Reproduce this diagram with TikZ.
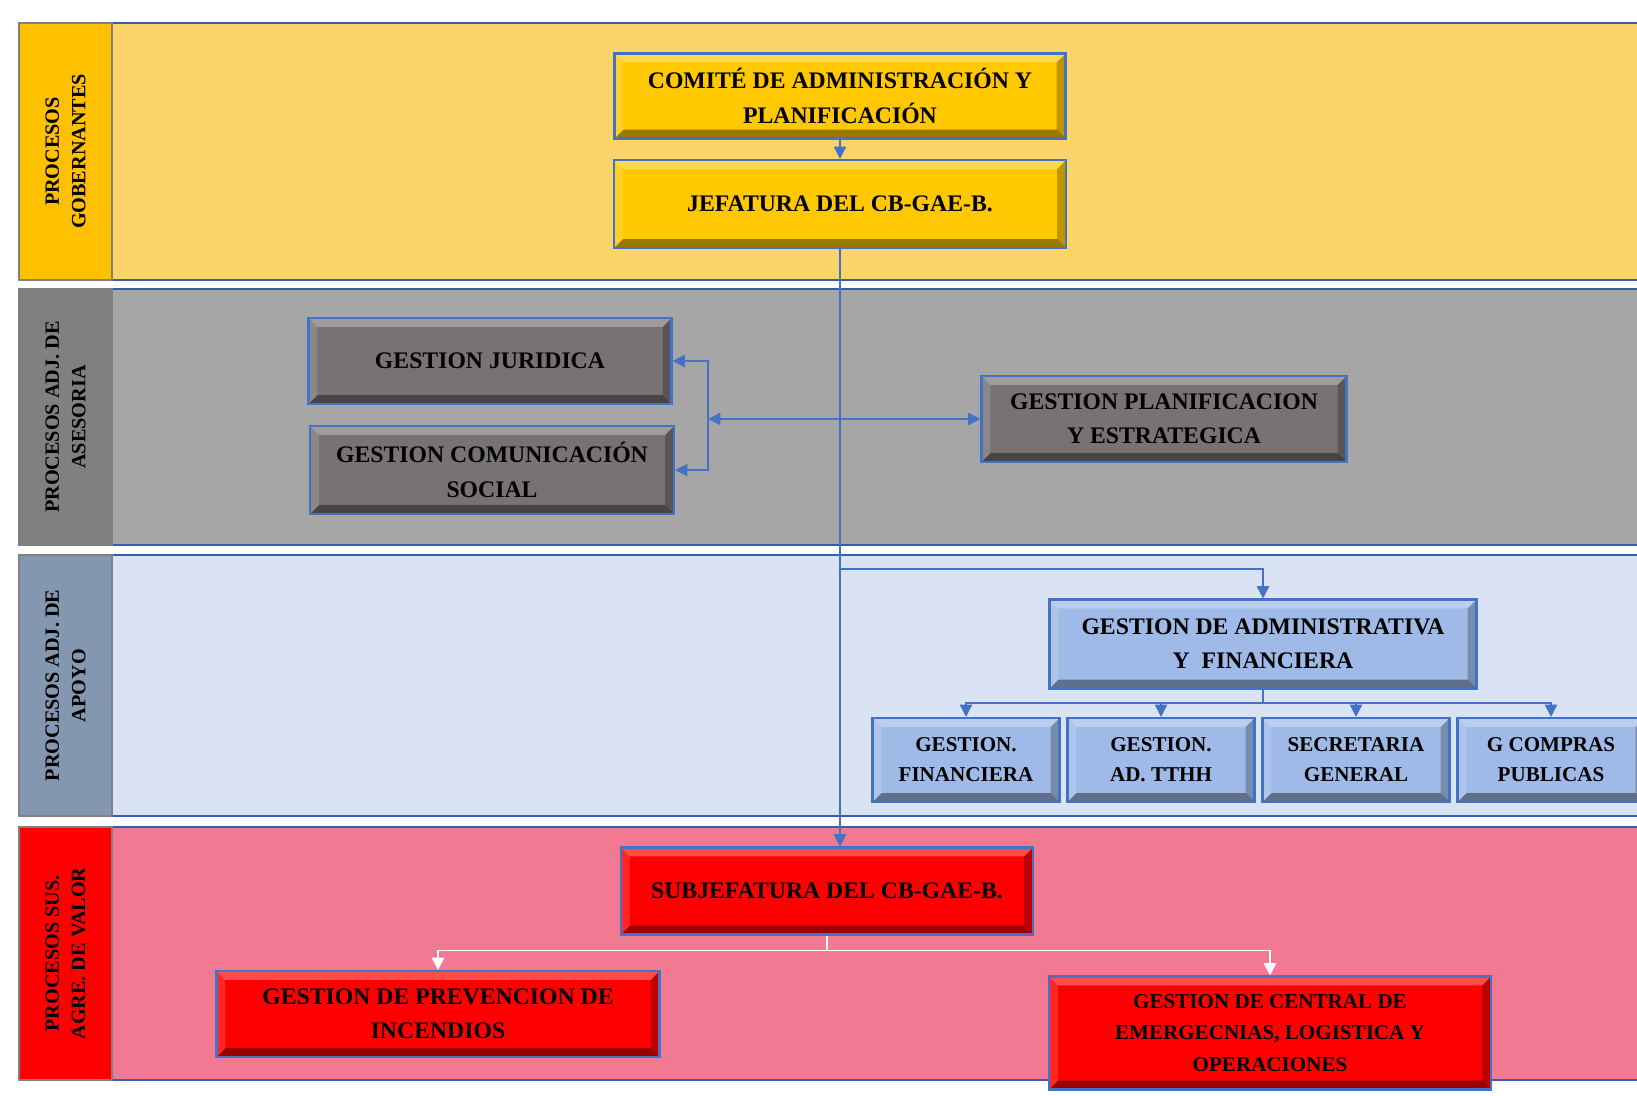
\documentclass[tikz,border=0pt]{standalone}
\usepackage{fontspec}
\setmainfont{Liberation Serif}
\usetikzlibrary{arrows.meta}

\definecolor{laneyellow}{RGB}{252,213,106}
\definecolor{tagyellow}{RGB}{255,192,0}
\definecolor{gold}{RGB}{255,200,0}
\definecolor{lanegray}{RGB}{166,166,166}
\definecolor{taggray}{RGB}{128,128,128}
\definecolor{boxgray}{RGB}{120,114,114}
\definecolor{laneblue}{RGB}{218,227,243}
\definecolor{tagblue}{RGB}{132,151,176}
\definecolor{boxblue}{RGB}{160,186,232}
\definecolor{lanepink}{RGB}{241,121,146}
\definecolor{tagred}{RGB}{255,0,0}
\definecolor{boxred}{RGB}{255,0,0}
\definecolor{laneline}{RGB}{56,93,170}
\definecolor{boxline}{RGB}{68,114,196}

\tikzset{
  lane/.style={draw=laneline, line width=1.2pt},
  lanelabel/.style={draw=black!50, line width=0.6pt, rotate=90, minimum height=1.86cm,
    inner sep=0pt, align=center, font=\bfseries\fontsize{11.5}{15}\selectfont},
  box/.style={draw=boxline, line width=1.2pt, align=center, inner sep=2pt,
    font=\bfseries\fontsize{13.5}{19.5}\selectfont,
    path picture={
      \coordinate (sw) at (path picture bounding box.south west);
      \coordinate (se) at (path picture bounding box.south east);
      \coordinate (ne) at (path picture bounding box.north east);
      \coordinate (nw) at (path picture bounding box.north west);
      \fill[black,opacity=.4] (sw) -- (se) -- ([shift={(-5pt,5pt)}]se) -- ([shift={(5pt,5pt)}]sw) -- cycle;
      \fill[black,opacity=.25] (se) -- (ne) -- ([shift={(-5pt,-5pt)}]ne) -- ([shift={(-5pt,5pt)}]se) -- cycle;
      \fill[white,opacity=.3] (ne) -- (nw) -- ([shift={(5pt,-5pt)}]nw) -- ([shift={(-5pt,-5pt)}]ne) -- cycle;
      \fill[white,opacity=.15] (nw) -- (sw) -- ([shift={(5pt,5pt)}]sw) -- ([shift={(5pt,-5pt)}]nw) -- cycle;
    }},
  small/.style={box, font=\bfseries\fontsize{12}{17}\selectfont},
  link/.style={draw=boxline, line width=0.8pt},
  whitelink/.style={draw=white, line width=1pt},
}

\begin{document}
\begin{tikzpicture}[>={Triangle[length=7pt,width=7pt]}]
\useasboundingbox (0,0) rectangle (32.74,-21.9);

% lanes
\draw[lane,fill=laneyellow] (0.38,-0.46) rectangle (33.5,-5.6);
\draw[lane,fill=lanegray] (0.38,-5.78) rectangle (33.5,-10.9);
\draw[lane,fill=laneblue] (0.38,-11.1) rectangle (33.5,-16.32);
\draw[lane,fill=lanepink] (0.38,-16.54) rectangle (33.5,-21.6);

\node[lanelabel,fill=tagyellow,minimum width=5.14cm] (gobernantes) at (1.31,-3.03) {PROCESOS\\GOBERNANTES};
\node[lanelabel,fill=taggray,minimum width=5.12cm] (asesoria) at (1.31,-8.34) {PROCESOS ADJ. DE\\ASESORIA};
\node[lanelabel,fill=tagblue,minimum width=5.22cm] (apoyo) at (1.31,-13.71) {PROCESOS ADJ. DE\\APOYO};
\node[lanelabel,fill=tagred,minimum width=5.06cm] (valor) at (1.31,-19.07) {PROCESOS SUS.\\AGRE. DE VALOR};

% gobernantes
\node[box,fill=gold,minimum width=9.02cm,minimum height=1.7cm] (comite) at (16.8,-1.92) {COMITÉ DE ADMINISTRACIÓN Y\\PLANIFICACIÓN};
\node[box,fill=gold,minimum width=9.04cm,minimum height=1.76cm] (jefatura) at (16.8,-4.08) {JEFATURA DEL CB-GAE-B.};

% asesoria
\node[box,fill=boxgray,minimum width=7.26cm,minimum height=1.72cm] (juridica) at (9.8,-7.22) {GESTION JURIDICA};
\node[box,fill=boxgray,minimum width=7.28cm,minimum height=1.76cm] (comunicacion) at (9.84,-9.4) {GESTION COMUNICACIÓN\\SOCIAL};
\node[box,fill=boxgray,minimum width=7.3cm,minimum height=1.72cm] (planificacion) at (23.28,-8.38) {GESTION PLANIFICACION\\Y ESTRATEGICA};

% apoyo
\node[box,fill=boxblue,minimum width=8.54cm,minimum height=1.78cm] (administrativa) at (25.26,-12.88) {GESTION DE ADMINISTRATIVA\\Y\ \ FINANCIERA};
\node[small,fill=boxblue,minimum width=3.74cm,minimum height=1.68cm] (financiera) at (19.32,-15.2) {GESTION.\\FINANCIERA};
\node[small,fill=boxblue,minimum width=3.74cm,minimum height=1.68cm] (tthh) at (23.22,-15.2) {GESTION.\\AD. TTHH};
\node[small,fill=boxblue,minimum width=3.74cm,minimum height=1.68cm] (secretaria) at (27.12,-15.2) {SECRETARIA\\GENERAL};
\node[small,fill=boxblue,minimum width=3.74cm,minimum height=1.68cm] (compras) at (31.02,-15.2) {G COMPRAS\\PUBLICAS};

% valor
\node[box,fill=boxred,minimum width=8.24cm,minimum height=1.74cm] (subjefatura) at (16.54,-17.82) {SUBJEFATURA DEL CB-GAE-B.};
\node[box,fill=boxred,minimum width=8.86cm,minimum height=1.72cm] (prevencion) at (8.76,-20.28) {GESTION DE PREVENCION DE\\INCENDIOS};
\node[small,fill=boxred,minimum width=8.84cm,minimum height=2.26cm,font=\bfseries\fontsize{12}{18}\selectfont] (central) at (25.4,-20.66) {GESTION DE CENTRAL DE\\EMERGECNIAS, LOGISTICA Y\\OPERACIONES};

% connectors
\draw[link,->] (comite) -- (jefatura);
\draw[link,->] (jefatura.south) -- (jefatura.south |- subjefatura.north);

\coordinate (bracket) at (14.16,-8.38);
\draw[link,<->] (juridica.east) -| (bracket) |- (comunicacion.east);
\draw[link,<->] (bracket) -- (planificacion.west);

\coordinate (split) at (16.8,-11.38);
\draw[link,->] (split) -| (administrativa.north);
\draw[link] (administrativa.south) -- ++(0,-0.27) coordinate (bus);
\foreach \c in {financiera,tthh,secretaria,compras}
  \draw[link,->] (bus) -| (\c.north);

\draw[whitelink] (subjefatura.south) -- ++(0,-0.3) coordinate (fork);
\foreach \c in {prevencion,central}
  \draw[whitelink,->] (fork) -| (\c.north);
\end{tikzpicture}
\end{document}
